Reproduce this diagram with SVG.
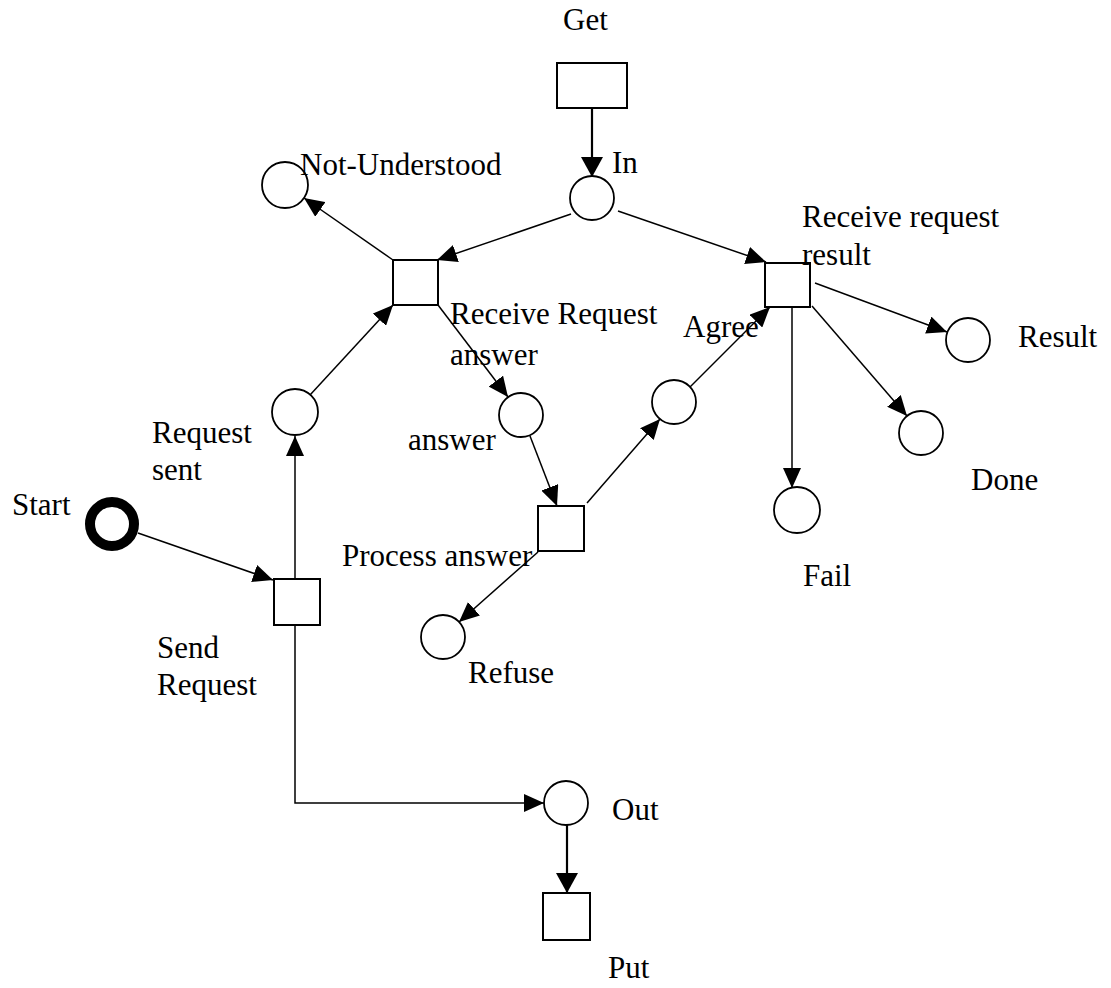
<svg xmlns="http://www.w3.org/2000/svg" width="1111" height="988" viewBox="0 0 1111 988">
  <style>
    .place { fill: #fff; stroke: #000; stroke-width: 1.8; }
    .start { fill: #fff; stroke: #000; stroke-width: 10; }
    .trans { fill: #fff; stroke: #000; stroke-width: 2; }
    .arc { fill: none; stroke: #000; stroke-width: 1.5; marker-end: url(#head); }
    .arc.bold { stroke-width: 2.2; marker-end: url(#headBig); }
    text { font-family: "Liberation Serif", "Times New Roman", serif; font-size: 31px; fill: #000; }
  </style>
  <defs>
    <marker id="head" markerUnits="userSpaceOnUse" markerWidth="20" markerHeight="18" refX="20" refY="9" orient="auto">
      <path d="M0,0 L20,9 L0,18 Z" fill="#000"/>
    </marker>
    <marker id="headBig" markerUnits="userSpaceOnUse" markerWidth="20" markerHeight="22" refX="20" refY="11" orient="auto">
      <path d="M0,0 L20,11 L0,22 Z" fill="#000"/>
    </marker>
  </defs>
  <rect width="1111" height="988" fill="#fff"/>

  <!-- arcs of the net -->
  <g id="connectors">
    <path class="arc bold" d="M592,108 L592,177"/>
    <path class="arc" d="M571,214 L437,260"/>
    <path class="arc" d="M393,260 L304,198"/>
    <path class="arc" d="M310,395 L393,305"/>
    <path class="arc" d="M438,305 L508,397"/>
    <path class="arc" d="M530,436 L557,506"/>
    <path class="arc" d="M587,503 L660,419"/>
    <path class="arc" d="M690,387 L770,307"/>
    <path class="arc" d="M538,552 L459,622"/>
    <path class="arc" d="M618,211 L766,262"/>
    <path class="arc" d="M815,283 L947,332"/>
    <path class="arc" d="M812,306 L907,416"/>
    <path class="arc" d="M792,307 L792,488"/>
    <path class="arc" d="M138,533 L273,580"/>
    <path class="arc" d="M295,579 L295,436"/>
    <path class="arc" d="M295,625 L295,803 L544,803"/>
    <path class="arc bold" d="M567,825 L567,893"/>
  </g>

  <!-- transitions -->
  <g id="t-get"><rect class="trans" x="557" y="63" width="70" height="45"/><text x="563" y="30">Get</text></g>
  <g id="t-receive-request"><rect class="trans" x="393" y="260" width="45" height="45"/><text x="450" y="324">Receive Request</text><text x="450" y="365">answer</text></g>
  <g id="t-receive-result"><rect class="trans" x="765" y="263" width="45" height="44"/><text x="802" y="227">Receive request</text><text x="802" y="265">result</text></g>
  <g id="t-process"><rect class="trans" x="538" y="506" width="46" height="45"/><text x="342" y="566">Process answer</text></g>
  <g id="t-send"><rect class="trans" x="274" y="579" width="46" height="46"/><text x="157" y="658">Send</text><text x="157" y="695">Request</text></g>
  <g id="t-put"><rect class="trans" x="543" y="893" width="47" height="47"/><text x="608" y="978">Put</text></g>

  <!-- places -->
  <g id="p-not-understood"><circle class="place" cx="285" cy="185" r="23"/><text x="300" y="175">Not-Understood</text></g>
  <g id="p-in"><circle class="place" cx="592" cy="198" r="22"/><text x="612" y="173">In</text></g>
  <g id="p-request-sent"><circle class="place" cx="295" cy="412" r="23"/><text x="152" y="443">Request</text><text x="152" y="480">sent</text></g>
  <g id="p-answer"><circle class="place" cx="521" cy="415" r="22"/><text x="408" y="450">answer</text></g>
  <g id="p-agree"><circle class="place" cx="674" cy="402" r="22"/><text x="683" y="337">Agree</text></g>
  <g id="p-result"><circle class="place" cx="968" cy="340" r="22"/><text x="1018" y="347">Result</text></g>
  <g id="p-done"><circle class="place" cx="921" cy="433" r="22"/><text x="971" y="490">Done</text></g>
  <g id="p-fail"><circle class="place" cx="797" cy="510" r="23"/><text x="803" y="586">Fail</text></g>
  <g id="p-refuse"><circle class="place" cx="443" cy="637" r="22"/><text x="468" y="683">Refuse</text></g>
  <g id="p-start"><circle class="start" cx="112" cy="524" r="22"/><text x="12" y="515">Start</text></g>
  <g id="p-out"><circle class="place" cx="566" cy="803" r="22"/><text x="612" y="820">Out</text></g>
</svg>
